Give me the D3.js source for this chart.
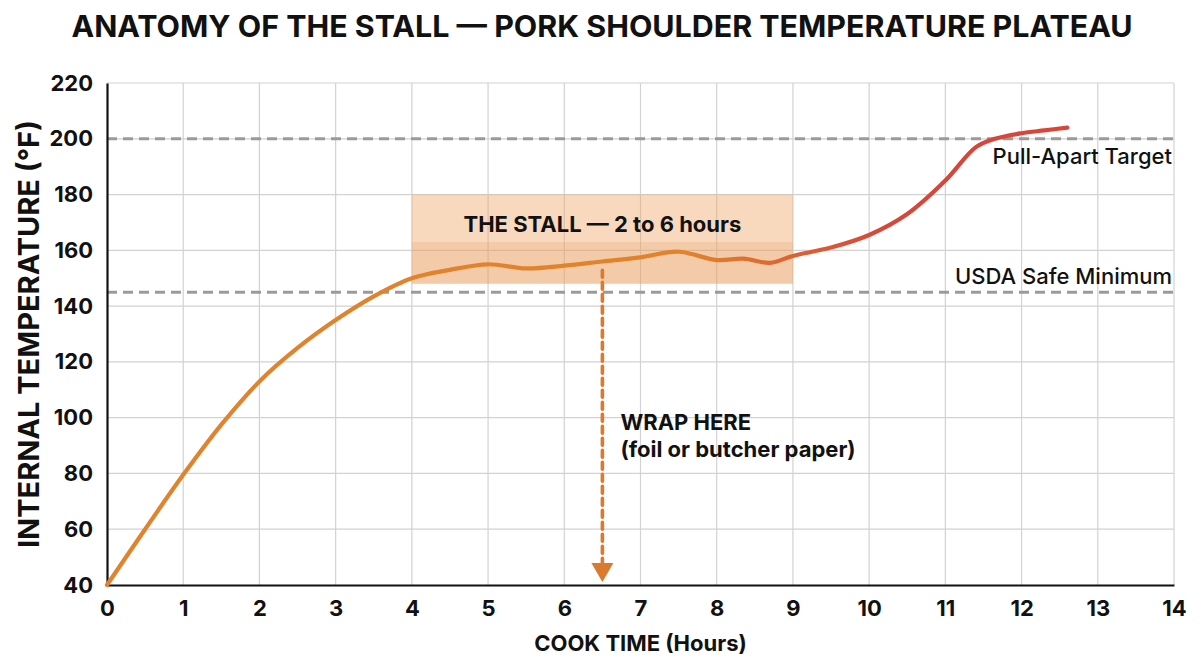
<!DOCTYPE html>
<html>
<head>
<meta charset="utf-8">
<script src="https://cdn.jsdelivr.net/npm/d3@7"></script>
<style>
  html, body { margin: 0; padding: 0; background: #ffffff; }
  svg { display: block; }
  text { font-family: Inter, "Liberation Sans", Arial, sans-serif; fill: #111; }
</style>
</head>
<body>
<svg id="chart" width="1204" height="672"></svg>
<script>
// ---- data ----
const hours = [0, 0.5, 1, 1.5, 2, 2.5, 3, 3.5, 4, 4.5, 5, 5.5, 6, 6.5, 7, 7.5, 8, 8.35, 8.7, 9, 9.5, 10, 10.5, 11, 11.4, 11.65, 12, 12.3, 12.6];
const temps = [40, 60, 79.5, 97.5, 113, 125, 135, 143.5, 150, 153, 155, 153.5, 154.5, 156, 157.5, 159.5, 156.5, 157, 155.5, 158, 161, 165.5, 173, 185, 197, 200, 202, 203, 204];
const xTicks = [0, 1, 2, 3, 4, 5, 6, 7, 8, 9, 10, 11, 12, 13, 14];
const yTicks = [40, 60, 80, 100, 120, 140, 160, 180, 200, 220];
const stallHours = [4, 9];
const stallTemps = [148, 163, 180];
const refTemps = [200, 145];
const refLabels = ["Pull-Apart Target", "USDA Safe Minimum"];
const wrapHour = 6.5;
const wrapTemp = 155;
const titleText = "ANATOMY OF THE STALL \u2014 PORK SHOULDER TEMPERATURE PLATEAU";
const stallLabel = "THE STALL \u2014 2 to 6 hours";
const wrapLabel = ["WRAP HERE", "(foil or butcher paper)"];
const xLabel = "COOK TIME (Hours)";
const yLabel = "INTERNAL TEMPERATURE (\u00B0F)";

// ---- layout ----
const svg = d3.select("#chart");
const pLeft = 107, pRight = 1174, pTop = 83, pBottom = 585;
const x = d3.scaleLinear().domain([0, 14]).range([pLeft, pRight]);
const y = d3.scaleLinear().domain([40, 220]).range([pBottom, pTop]);

const orange = "#E0832C";
const red = "#D8463A";

// grid
const grid = svg.append("g");
grid.selectAll("line.v").data(xTicks.slice(1)).join("line")
  .attr("x1", d => x(d)).attr("x2", d => x(d)).attr("y1", pTop).attr("y2", pBottom)
  .attr("stroke", "#d2d2d2").attr("stroke-width", 1.2);
grid.selectAll("line.h").data(yTicks.slice(1)).join("line")
  .attr("x1", pLeft).attr("x2", pRight).attr("y1", d => y(d)).attr("y2", d => y(d))
  .attr("stroke", "#d2d2d2").attr("stroke-width", 1.2);

// stall band
svg.append("rect")
  .attr("x", x(stallHours[0])).attr("width", x(stallHours[1]) - x(stallHours[0]))
  .attr("y", y(stallTemps[2])).attr("height", y(stallTemps[0]) - y(stallTemps[2]))
  .attr("fill", "#EFA565").attr("fill-opacity", 0.42);
svg.append("rect")
  .attr("x", x(stallHours[0])).attr("width", x(stallHours[1]) - x(stallHours[0]))
  .attr("y", y(stallTemps[1])).attr("height", y(stallTemps[0]) - y(stallTemps[1]))
  .attr("fill", "#E8954F").attr("fill-opacity", 0.2);

svg.append("text")
  .attr("x", x((stallHours[0] + stallHours[1]) / 2)).attr("y", 232)
  .attr("text-anchor", "middle").attr("font-size", 22).attr("font-weight", 700)
  .text(stallLabel);

// reference lines
svg.selectAll("line.ref").data(refTemps).join("line")
  .attr("x1", pLeft).attr("x2", pRight).attr("y1", d => y(d)).attr("y2", d => y(d))
  .attr("stroke", "#9a9a9a").attr("stroke-width", 3).attr("stroke-dasharray", "10,6");
svg.selectAll("text.ref").data(refLabels).join("text")
  .attr("x", pRight - 2)
  .attr("y", (d, i) => i === 0 ? y(refTemps[0]) + 25 : y(refTemps[1]) - 8)
  .attr("text-anchor", "end").attr("font-size", 22).attr("font-weight", 500)
  .text(d => d);

// axes
const xAxis = d3.axisBottom(x).tickValues(xTicks).tickSize(0).tickPadding(15).tickFormat(d3.format("d"));
const yAxis = d3.axisLeft(y).tickValues(yTicks).tickSize(0).tickPadding(14).tickFormat(d3.format("d"));
const gx = svg.append("g").attr("transform", `translate(0,${pBottom})`).call(xAxis);
const gy = svg.append("g").attr("transform", `translate(${pLeft},0)`).call(yAxis);
[gx, gy].forEach(g => {
  g.select(".domain").attr("stroke", "#111").attr("stroke-width", 2.2);
  g.selectAll("text").attr("font-size", 22).attr("font-weight", 700)
    .attr("font-family", "Inter, 'Liberation Sans', Arial, sans-serif").attr("fill", "#111");
});

// curve with gradient
const defs = svg.append("defs");
const grad = defs.append("linearGradient").attr("id", "heat")
  .attr("gradientUnits", "userSpaceOnUse")
  .attr("x1", x(0)).attr("x2", x(14)).attr("y1", 0).attr("y2", 0);
grad.append("stop").attr("offset", 0).attr("stop-color", orange);
grad.append("stop").attr("offset", 7.6 / 14).attr("stop-color", orange);
grad.append("stop").attr("offset", 10.2 / 14).attr("stop-color", red);
grad.append("stop").attr("offset", 1).attr("stop-color", red);

const pts = hours.map((h, i) => [h, temps[i]]);
const line = d3.line().x(d => x(d[0])).y(d => y(d[1])).curve(d3.curveCatmullRom.alpha(0.5));
svg.append("path").datum(pts)
  .attr("d", line).attr("fill", "none").attr("stroke", "url(#heat)")
  .attr("stroke-width", 4.2).attr("stroke-linecap", "round").attr("stroke-linejoin", "round");

// wrap arrow
const ax = x(wrapHour);
svg.append("line")
  .attr("x1", ax).attr("x2", ax).attr("y1", y(wrapTemp) + 6).attr("y2", pBottom - 20)
  .attr("stroke", "#DB7A2C").attr("stroke-width", 3.6)
  .attr("stroke-dasharray", "7,5").attr("stroke-linecap", "round");
svg.append("path")
  .attr("d", `M${ax - 11},${pBottom - 22} L${ax + 11},${pBottom - 22} L${ax},${pBottom - 3} Z`)
  .attr("fill", "#DB7A2C");
svg.selectAll("text.wrap").data(wrapLabel).join("text")
  .attr("x", ax + 18).attr("y", (d, i) => 430 + i * 27)
  .attr("font-size", 22).attr("font-weight", 700)
  .text(d => d);

// titles
svg.append("text")
  .attr("x", 602).attr("y", 37).attr("text-anchor", "middle")
  .attr("font-size", 30.4).attr("font-weight", 700)
  .text(titleText);
svg.append("text")
  .attr("x", (pLeft + pRight) / 2).attr("y", 651).attr("text-anchor", "middle")
  .attr("font-size", 22).attr("font-weight", 700)
  .text(xLabel);
svg.append("text")
  .attr("transform", `translate(39,${(pTop + pBottom) / 2}) rotate(-90)`)
  .attr("text-anchor", "middle")
  .attr("font-size", 29).attr("font-weight", 700)
  .text(yLabel);
</script>
</body>
</html>
